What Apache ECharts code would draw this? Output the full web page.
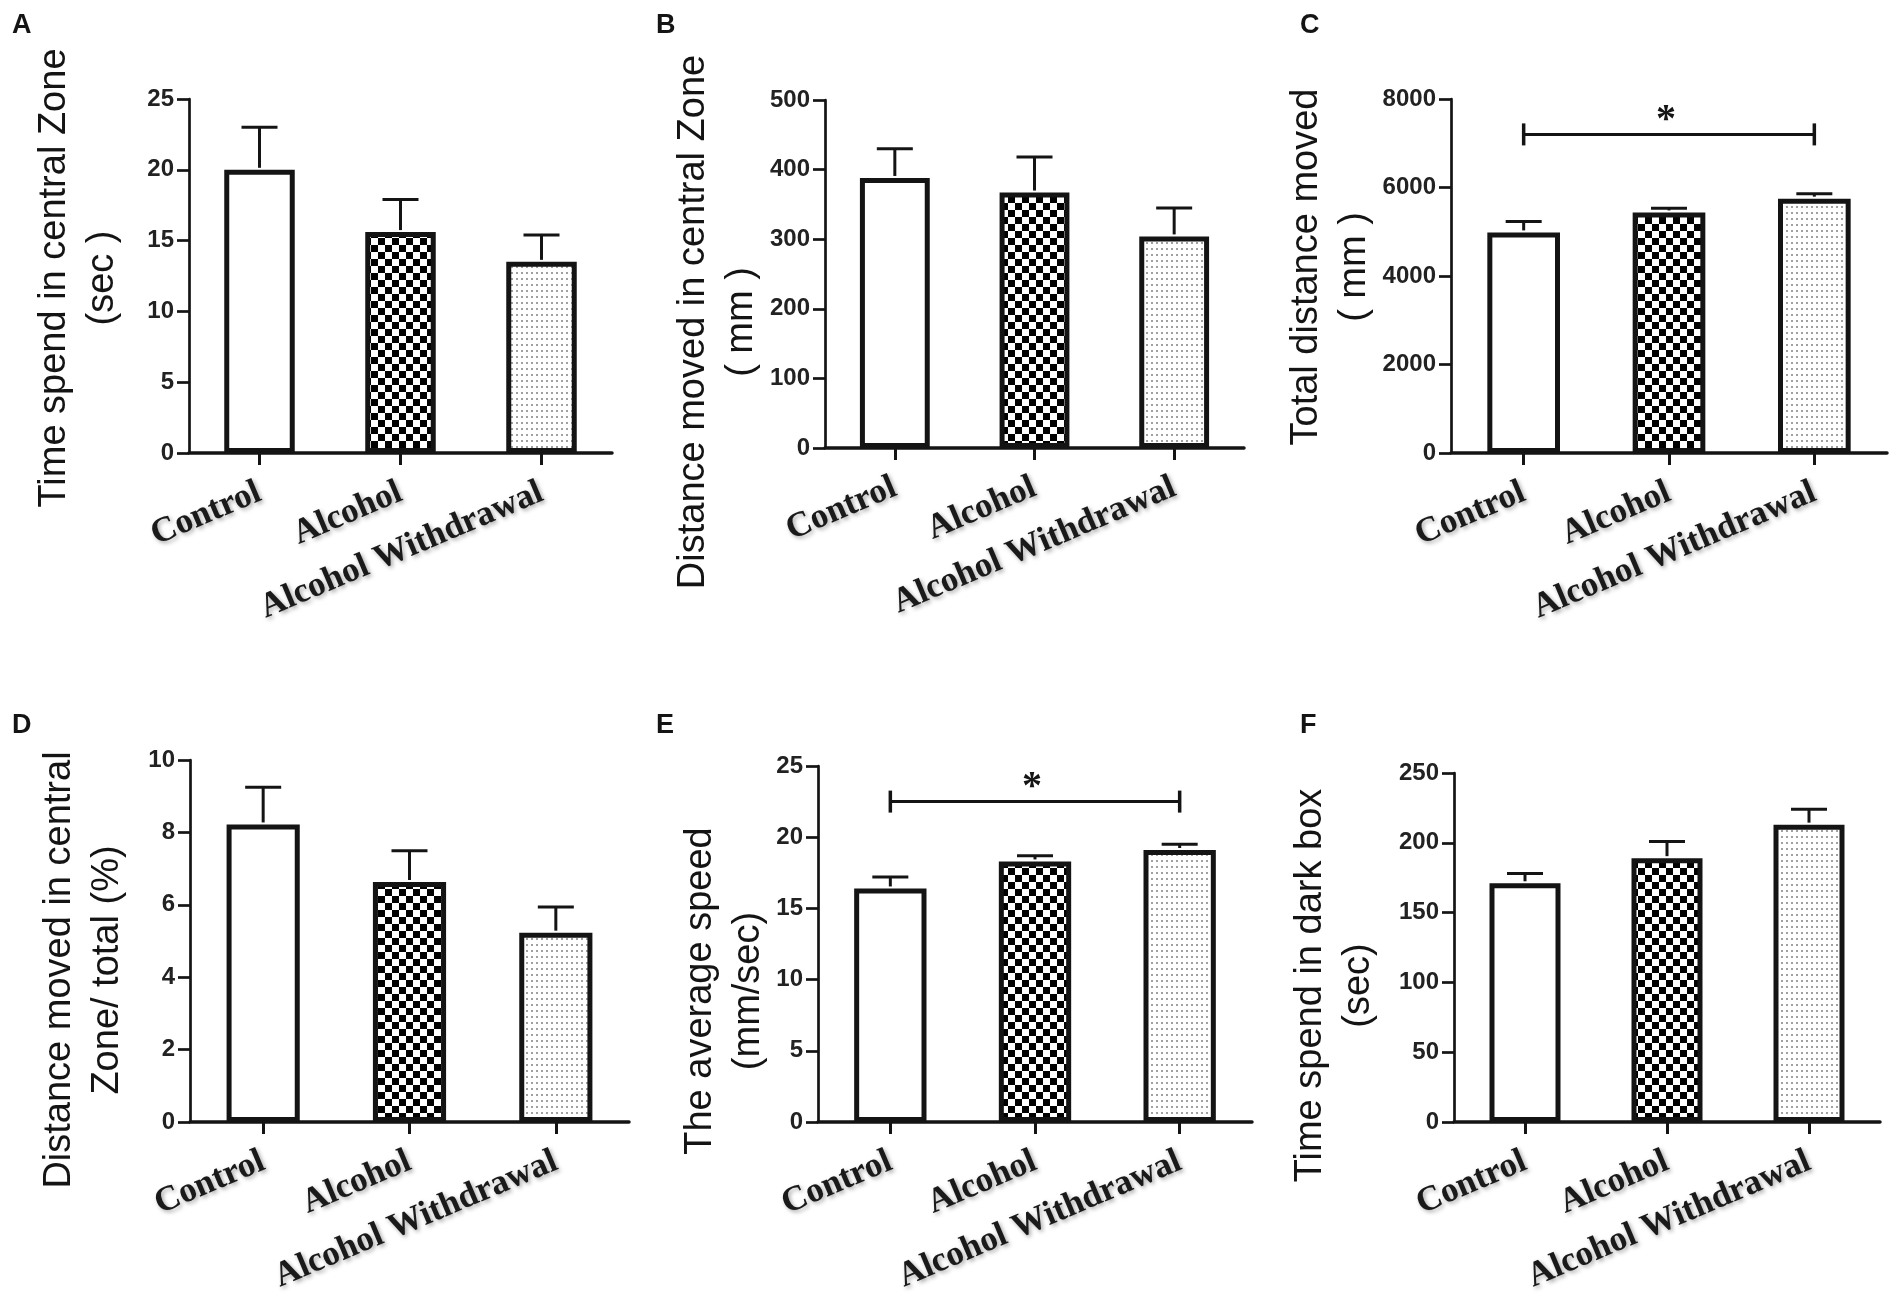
<!DOCTYPE html>
<html>
<head>
<meta charset="utf-8">
<script src="https://cdn.jsdelivr.net/npm/echarts@6/dist/echarts.min.js"></script>
<style>
html,body{margin:0;padding:0;background:#fff;}
#chart{width:1901px;height:1311px;}
</style>
</head>
<body>
<div id="chart"></div>
<script>
// ---------------- data ----------------
const categories = ['Control', 'Alcohol', 'Alcohol Withdrawal'];
const panelLetters = ['A', 'B', 'C', 'D', 'E', 'F'];
const yTitles = [
  'Time spend in central Zone\n(sec )',
  'Distance moved in central Zone\n( mm )',
  'Total distance moved\n( mm )',
  'Distance moved in central\nZone/ total (%)',
  'The average speed\n(mm/sec)',
  'Time spend in dark box\n(sec)'
];
const meanA = [20.0, 15.6, 13.5];   const errA = [23.0, 17.9, 15.4];
const meanB = [388, 367, 304];      const errB = [430, 418, 345];
const meanC = [4985, 5437, 5748];   const errC = [5230, 5531, 5861];
const meanD = [8.22, 6.63, 5.23];   const errD = [9.25, 7.49, 5.94];
const meanE = [16.4, 18.3, 19.1];   const errE = [17.2, 18.7, 19.5];
const meanF = [171, 189, 213];      const errF = [178, 201, 224];
const yMax = [25, 500, 8000, 10, 25, 250];
const yStep = [5, 100, 2000, 2, 5, 50];
// significance brackets: [panelIndex, fromCategory, toCategory, yValue, label]
const sigC = [2, 0, 2, 7200, '*'];
const sigE = [4, 0, 2, 22.5, '*'];

const means = [meanA, meanB, meanC, meanD, meanE, meanF];
const errs = [errA, errB, errC, errD, errE, errF];
const sigs = [sigC, sigE];

// ---------------- layout ----------------
const grids = [
  {left: 189, top: 99, width: 423, height: 354},
  {left: 825, top: 100, width: 419, height: 348},
  {left: 1451, top: 99, width: 436, height: 354},
  {left: 190, top: 760, width: 439, height: 362},
  {left: 818, top: 766, width: 434, height: 356},
  {left: 1454, top: 773, width: 426, height: 349}
];
const nameGaps = [62, 59, 68, 58, 37, 71];
const namePads = [[0, 4, 0, 0], [0, 96, 0, 0], [0, 0, 0, 18], [0, 58, 0, 0], [0, 94, 0, 0], [0, 76, 0, 0]];
const letterPos = [[12, 12], [656, 12], [1300, 12], [12, 712], [656, 712], [1300, 712]];

// ---------------- patterns ----------------
function makeChecker() {
  const c = document.createElement('canvas');
  c.width = 14; c.height = 14;
  const g = c.getContext('2d');
  g.fillStyle = '#fff'; g.fillRect(0, 0, 14, 14);
  g.fillStyle = '#000';
  g.fillRect(0, 0, 7, 7); g.fillRect(7, 7, 7, 7);
  return c;
}
function makeDots() {
  const c = document.createElement('canvas');
  c.width = 5; c.height = 6;
  const g = c.getContext('2d');
  g.fillStyle = '#fff'; g.fillRect(0, 0, 5, 6);
  g.fillStyle = '#a0a0a0';
  g.fillRect(1, 2, 2, 2);
  return c;
}
const fills = ['#ffffff', {image: makeChecker(), repeat: 'repeat'}, {image: makeDots(), repeat: 'repeat'}];

const INK = '#141414';

// ---------------- build option ----------------
const option = {
  backgroundColor: '#ffffff',
  animation: false,
  title: panelLetters.map((t, i) => ({
    text: t, left: letterPos[i][0], top: letterPos[i][1], padding: 0,
    textStyle: {fontFamily: 'Liberation Sans', fontWeight: 'bold', fontSize: 27, color: INK}
  })),
  grid: grids.map(g => Object.assign({containLabel: false, outerBoundsMode: 'none'}, g)),
  xAxis: grids.map((g, i) => ({
    type: 'category', gridIndex: i, data: categories,
    axisLine: {show: true, onZero: true, lineStyle: {color: INK, width: 3.5}},
    axisTick: {show: true, alignWithLabel: true, length: 12, lineStyle: {color: INK, width: 3}},
    axisLabel: {
      interval: 0, rotate: 23, margin: 38,
      fontFamily: 'Liberation Serif', fontWeight: 'bold', fontSize: 35, color: '#1a1a1a',
      textShadowColor: 'rgba(0,0,0,0.35)', textShadowBlur: 4, textShadowOffsetX: 2, textShadowOffsetY: 2
    },
    splitLine: {show: false}
  })),
  yAxis: grids.map((g, i) => ({
    type: 'value', gridIndex: i, min: 0, max: yMax[i], interval: yStep[i],
    name: yTitles[i], nameLocation: 'middle', nameGap: nameGaps[i], nameRotate: 90,
    nameTextStyle: {fontFamily: 'Liberation Sans', fontSize: 38, lineHeight: 48, color: INK, padding: namePads[i]},
    axisLine: {show: true, lineStyle: {color: INK, width: 2.7}},
    axisTick: {show: true, length: 12, lineStyle: {color: INK, width: 2.7}},
    axisLabel: {margin: 15, fontFamily: 'Liberation Sans', fontWeight: 'bold', fontSize: 24, color: '#222',
      formatter: v => String(v)},
    splitLine: {show: false}
  })),
  series: []
};

means.forEach((m, i) => {
  option.series.push({
    type: 'bar', xAxisIndex: i, yAxisIndex: i, barWidth: '50%',
    data: m.map((v, k) => ({value: v, itemStyle: {color: fills[k], borderColor: INK, borderWidth: 5}})),
    z: 3
  });
  option.series.push({
    type: 'custom', xAxisIndex: i, yAxisIndex: i, z: 4,
    encode: {x: 0, y: [1, 2]},
    data: m.map((v, k) => [k, v, errs[i][k]]),
    renderItem: function (params, api) {
      const p0 = api.coord([api.value(0), api.value(1)]);
      const p1 = api.coord([api.value(0), api.value(2)]);
      const st = {stroke: INK, lineWidth: 3};
      return {type: 'group', children: [
        {type: 'line', shape: {x1: p0[0], y1: p0[1] - 2, x2: p1[0], y2: p1[1]}, style: st},
        {type: 'line', shape: {x1: p1[0] - 18, y1: p1[1], x2: p1[0] + 18, y2: p1[1]}, style: st}
      ]};
    }
  });
});

sigs.forEach(s => {
  const i = s[0];
  option.series.push({
    type: 'custom', xAxisIndex: i, yAxisIndex: i, z: 5,
    encode: {x: [0, 1], y: 2},
    data: [[s[1], s[2], s[3], s[4]]],
    renderItem: function (params, api) {
      const a = api.coord([api.value(0), api.value(2)]);
      const b = api.coord([api.value(1), api.value(2)]);
      const st = {stroke: INK, lineWidth: 3};
      return {type: 'group', children: [
        {type: 'line', shape: {x1: a[0], y1: a[1], x2: b[0], y2: b[1]}, style: st},
        {type: 'line', shape: {x1: a[0], y1: a[1] - 11, x2: a[0], y2: a[1] + 11}, style: {stroke: INK, lineWidth: 3.5}},
        {type: 'line', shape: {x1: b[0], y1: b[1] - 11, x2: b[0], y2: b[1] + 11}, style: {stroke: INK, lineWidth: 3.5}},
        {type: 'text', x: (a[0] + b[0]) / 2 - 3, y: a[1] - 14,
         style: {text: s[4], font: 'bold 40px "Liberation Serif"', fill: INK, align: 'center', verticalAlign: 'middle'}}
      ]};
    }
  });
});

const chart = echarts.init(document.getElementById('chart'), null, {renderer: 'canvas'});
chart.setOption(option);
</script>
</body>
</html>
